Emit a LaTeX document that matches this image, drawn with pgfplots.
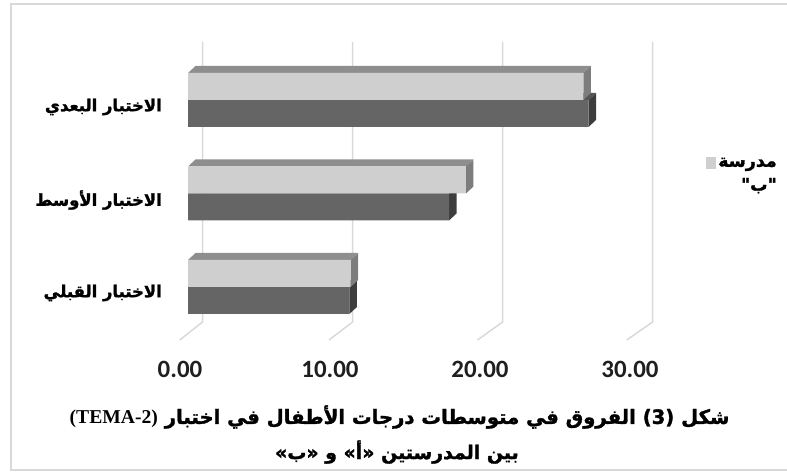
\documentclass[border=0pt]{standalone}
\usepackage{pgfplots}
\pgfplotsset{compat=1.18}
\usepackage{fontspec}
\setmainfont{Carlito}
\newfontfamily\arabicfont[Script=Arabic, BoldFeatures={FakeBold=1.6}]{DejaVu Sans}
\newfontfamily\timesfont{Liberation Serif}
\TeXXeTstate=1

\definecolor{lightF}{HTML}{CFCFCF}
\definecolor{lightT}{HTML}{8E8E8E}
\definecolor{lightS}{HTML}{7D7D7D}
\definecolor{darkF}{HTML}{656565}
\definecolor{darkT}{HTML}{555555}
\definecolor{darkS}{HTML}{3D3D3D}
\definecolor{gridc}{HTML}{D9D9D9}
\definecolor{framec}{HTML}{D9D9D9}
\definecolor{tickc}{HTML}{1F1F1F}

\begin{document}
\begin{tikzpicture}
\begin{axis}[
  width=787bp, height=473bp, scale only axis,
  xmin=-12.5333, xmax=39.9333, ymin=0, ymax=473,
  axis line style={draw=none}, tick style={draw=none},
  /pgf/number format/assume math mode=true,
  xtick={0,10,20,30},
  xticklabels={0.00,10.00,20.00,30.00},
  xticklabel style={anchor=center, yshift=104bp, xshift=-8bp,
    font=\fontsize{25}{25}\selectfont\bfseries, text=tickc},
  ytick={180,273,366},
  yticklabels={{\beginR الاختبار القبلي\endR},{\beginR الاختبار الأوسط\endR},{\beginR الاختبار البعدي\endR}},
  yticklabel style={anchor=east, xshift=162bp, inner sep=0pt,
    font=\arabicfont\bfseries\fontsize{16.5}{16.5}\selectfont, text=black},
  legend style={at={(axis cs:34.53,298)}, anchor=west, draw=none, fill=none,
    font=\arabicfont\bfseries\fontsize{17.5}{24}\selectfont,
    cells={align=right}, inner sep=0pt},
  legend image code/.code={\fill[lightF] (0bp,6bp) rectangle (10bp,18bp);},
]
% back-wall gridlines with floor diagonals
\addplot[gridc, line width=1.5bp, forget plot] coordinates {(0.97,431) (0.97,151) (-0.55,133)};
\addplot[gridc, line width=1.5bp, forget plot] coordinates {(10.97,431) (10.97,151) (9.4,133)};
\addplot[gridc, line width=1.5bp, forget plot] coordinates {(20.97,431) (20.97,151) (19.3,133)};
\addplot[gridc, line width=1.5bp, forget plot] coordinates {(30.97,431) (30.97,151) (29.25,133)};

% dark series: side and top faces
\addplot[fill=darkS, draw=none, forget plot] coordinates {(26.7,346) (27.2,353) (27.2,380) (26.7,373)};
\addplot[fill=darkT, draw=none, forget plot] coordinates {(0,373) (26.7,373) (27.2,380) (0.5,380)};
\addplot[fill=darkS, draw=none, forget plot] coordinates {(17.4,252.5) (17.9,259.5) (17.9,286.5) (17.4,279.5)};
\addplot[fill=darkT, draw=none, forget plot] coordinates {(0,279.5) (17.4,279.5) (17.9,286.5) (0.5,286.5)};
\addplot[fill=darkS, draw=none, forget plot] coordinates {(10.76,159) (11.26,166) (11.26,193) (10.76,186)};
\addplot[fill=darkT, draw=none, forget plot] coordinates {(0,186) (10.76,186) (11.26,193) (0.5,193)};
% dark series: front faces
\addplot[xbar, bar width=27, bar shift=0pt, fill=darkF, draw=none, forget plot]
  coordinates {(26.7,359.5) (17.4,266) (10.76,172.5)};

% light series: side and top faces
\addplot[fill=lightS, draw=none, forget plot] coordinates {(26.35,373) (26.85,380) (26.85,407) (26.35,400)};
\addplot[fill=lightT, draw=none, forget plot] coordinates {(0,400) (26.35,400) (26.85,407) (0.5,407)};
\addplot[fill=lightS, draw=none, forget plot] coordinates {(18.53,279.5) (19.03,286.5) (19.03,313.5) (18.53,306.5)};
\addplot[fill=lightT, draw=none, forget plot] coordinates {(0,306.5) (18.53,306.5) (19.03,313.5) (0.5,313.5)};
\addplot[fill=lightS, draw=none, forget plot] coordinates {(10.84,186) (11.34,193) (11.34,220) (10.84,213)};
\addplot[fill=lightT, draw=none, forget plot] coordinates {(0,213) (10.84,213) (11.34,220) (0.5,220)};
% light series: front faces
\addplot[xbar, bar width=27, bar shift=0pt, fill=lightF, draw=none]
  coordinates {(26.35,386.5) (18.53,293) (10.84,199.5)};
\addlegendentry{\beginR مدرسة\endR\\\beginR "ب"\endR}

% caption
\node[font=\arabicfont\bfseries\fontsize{19.7}{19.7}\selectfont, anchor=center] at (axis cs:14.1,56)
  {\beginR شكل (3) الفروق في متوسطات درجات الأطفال في اختبار {\timesfont\bfseries (TEMA-2)}\endR};
\node[font=\arabicfont\bfseries\fontsize{19}{19}\selectfont, anchor=center] at (axis cs:13.93,21)
  {\beginR بين المدرستين «أ» و «ب»\endR};

% outer frame
\draw[framec, line width=1.5bp] (axis cs:39.9333,469) -- (axis cs:-11.8,469) -- (axis cs:-11.8,3) -- (axis cs:39.9333,3);
\end{axis}
\end{tikzpicture}
\end{document}
